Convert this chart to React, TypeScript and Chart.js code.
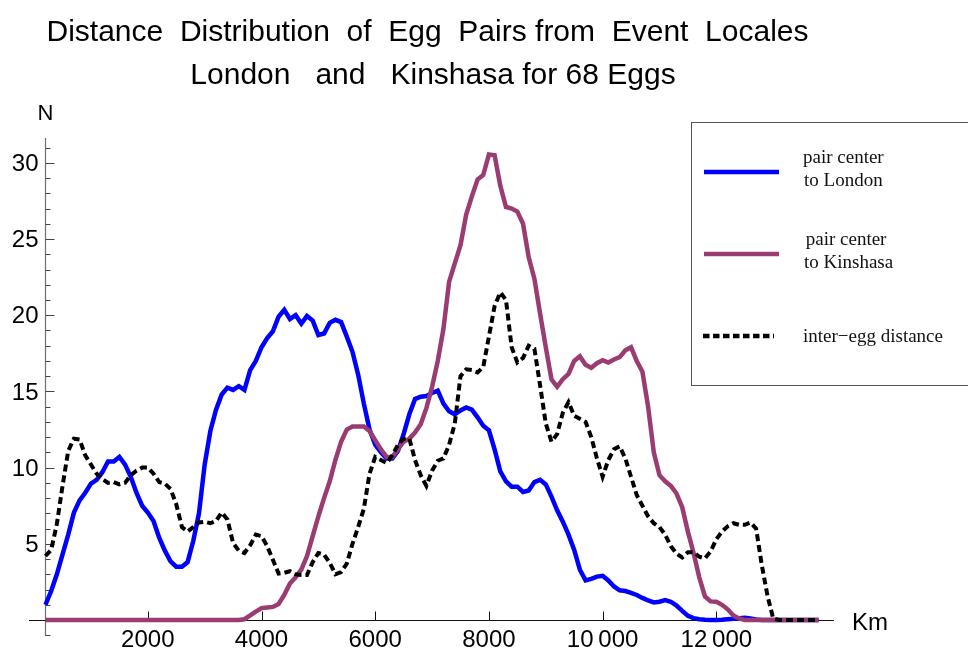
import React, { useEffect, useRef } from "react";
import { Chart, registerables } from "chart.js";

Chart.register(...registerables);

// ---- data ----
const distanceKm = [
  200, 300, 400, 500, 600, 700, 800, 900, 1000, 1100,
  1200, 1300, 1400, 1500, 1600, 1700, 1800, 1900, 2000, 2100,
  2200, 2300, 2400, 2500, 2600, 2700, 2800, 2900, 3000, 3100,
  3200, 3300, 3400, 3500, 3600, 3700, 3800, 3900, 4000, 4100,
  4200, 4300, 4400, 4500, 4600, 4700, 4800, 4900, 5000, 5100,
  5200, 5300, 5400, 5500, 5600, 5700, 5800, 5900, 6000, 6100,
  6200, 6300, 6400, 6500, 6600, 6700, 6800, 6900, 7000, 7100,
  7200, 7300, 7400, 7500, 7600, 7700, 7800, 7900, 8000, 8100,
  8200, 8300, 8400, 8500, 8600, 8700, 8800, 8900, 9000, 9100,
  9200, 9300, 9400, 9500, 9600, 9700, 9800, 9900, 10000, 10100,
  10200, 10300, 10400, 10500, 10600, 10700, 10800, 10900, 11000, 11100,
  11200, 11300, 11400, 11500, 11600, 11700, 11800, 11900, 12000, 12100,
  12200, 12300, 12400, 12500, 12600, 12700, 12800, 12900, 13000, 13100,
  13200, 13300, 13400, 13500, 13600, 13700, 13800,
];

const londonN = [
  1.0, 1.9, 3.0, 4.3, 5.6, 7.05, 7.85, 8.35, 8.95, 9.2,
  9.7, 10.4, 10.4, 10.7, 10.2, 9.4, 8.35, 7.5, 7.05, 6.5,
  5.4, 4.55, 3.85, 3.5, 3.5, 3.8, 5.2, 7.0, 10.2, 12.4,
  13.8, 14.8, 15.25, 15.1, 15.35, 15.1, 16.4, 17.0, 17.9, 18.5,
  18.95, 19.9, 20.35, 19.75, 20.0, 19.45, 19.95, 19.65, 18.7, 18.8,
  19.5, 19.7, 19.55, 18.6, 17.6, 16.1, 14.2, 12.5, 11.5, 11.0,
  10.6, 10.6, 11.1, 12.2, 13.5, 14.5, 14.65, 14.7, 14.9, 15.05,
  14.2, 13.7, 13.5, 13.75, 13.95, 13.8, 13.3, 12.75, 12.45, 11.2,
  9.75, 9.1, 8.75, 8.75, 8.4, 8.5, 9.05, 9.2, 8.9, 8.1,
  7.2, 6.45, 5.6, 4.6, 3.3, 2.6, 2.7, 2.85, 2.9, 2.6,
  2.2, 1.95, 1.9, 1.78, 1.64, 1.45, 1.28, 1.15, 1.2, 1.3,
  1.2, 0.95, 0.6, 0.28, 0.12, 0.05, 0.02, 0, 0, 0.02,
  0.05, 0.08, 0.12, 0.15, 0.1, 0.04, 0, 0, 0, 0,
  0, 0, 0, 0, 0, 0, 0,
];

const kinshasaN = [
  0, 0, 0, 0, 0, 0, 0, 0, 0, 0,
  0, 0, 0, 0, 0, 0, 0, 0, 0, 0,
  0, 0, 0, 0, 0, 0, 0, 0, 0, 0,
  0, 0, 0, 0, 0, 0.05, 0.3, 0.55, 0.78, 0.82,
  0.86, 1.05, 1.65, 2.4, 2.8, 3.3, 4.2, 5.5, 6.8, 8.0,
  9.1, 10.5, 11.7, 12.5, 12.7, 12.7, 12.7, 12.4, 11.8, 11.2,
  10.7, 10.7, 11.2, 11.7, 11.9, 12.3, 12.85, 13.9, 15.3, 17.0,
  19.1, 22.2, 23.4, 24.6, 26.6, 27.8, 28.9, 29.2, 30.55, 30.5,
  28.5, 27.1, 27.0, 26.8, 26.0, 23.8, 22.4, 20.1, 17.9, 15.8,
  15.3, 15.8, 16.15, 17.0, 17.3, 16.75, 16.55, 16.85, 17.05, 16.9,
  17.1, 17.25, 17.7, 17.9, 17.0, 16.3, 14.0, 11.0, 9.5, 9.1,
  8.8, 8.3, 7.4, 5.8, 4.4, 2.8, 1.55, 1.22, 1.2, 1.0,
  0.7, 0.3, 0.1, 0, 0, 0, 0, 0, 0, 0,
  0, 0, 0, 0, 0, 0, 0,
];

const interEggN = [
  4.2, 4.6, 6.3, 8.8, 11.1, 11.9, 11.85, 10.8, 10.2, 9.6,
  9.25, 9.0, 9.05, 8.9, 9.0, 9.5, 9.8, 10.0, 10.0, 9.6,
  9.05, 8.95, 8.6, 7.6, 6.1, 5.8, 6.1, 6.4, 6.45, 6.35,
  6.5, 7.05, 6.6, 5.05, 4.55, 4.4, 4.9, 5.6, 5.5, 4.85,
  3.95, 3.05, 3.1, 3.2, 3.0, 2.95, 2.95, 3.8, 4.4, 4.3,
  3.75, 3.0, 3.15, 3.7, 5.0, 6.1, 7.3, 9.6, 10.7, 10.5,
  10.3, 10.8, 11.5, 11.9, 11.9, 10.5, 9.5, 8.8, 9.8, 10.45,
  10.6, 11.5, 12.9, 16.0, 16.45, 16.4, 16.25, 16.6, 18.6, 20.6,
  21.5, 21.0, 17.9, 16.9, 17.2, 18.0, 17.8, 15.4, 12.9, 11.7,
  12.2, 13.6, 14.3, 13.4, 13.2, 13.0, 12.0, 10.6, 9.4, 10.5,
  11.2, 11.4, 10.6, 9.4, 8.2, 7.5, 6.8, 6.35, 6.1, 5.6,
  4.85, 4.35, 4.1, 4.45, 4.45, 4.15, 4.05, 4.5, 5.3, 5.8,
  6.15, 6.35, 6.25, 6.25, 6.4, 6.0, 3.6, 1.6, 0.1, 0,
  0, 0, 0, 0, 0, 0, 0,
];

const xTickValues = [2000, 4000, 6000, 8000, 10000, 12000];
const xTickLabels = ["2000", "4000", "6000", "8000", "10\u2009000", "12\u2009000"];
const yTickValues = [5, 10, 15, 20, 25, 30];
const yTickLabels = ["5", "10", "15", "20", "25", "30"];
const titleLines = [
  "Distance  Distribution  of  Egg  Pairs from  Event  Locales",
  "London   and   Kinshasa for 68 Eggs",
];
const seriesLabels = [
  ["pair center", "to London"],
  [" pair center", "to Kinshasa"],
  ["inter\u2212egg distance"],
];
const xAxisTitle = "Km";
const yAxisTitle = "N";

// ---- styling ----
const BLUE = "#0000ff";
const PURPLE = "#9a3c72";
const BLACK = "#000000";
const Y_AXIS_AT_KM = 200;
const SANS = "'Liberation Sans', Arial, sans-serif";
const SERIF = "'Liberation Serif', 'Times New Roman', serif";

const decorPlugin = {
  id: "decor",
  beforeDatasetsDraw(chart: any) {
    const { ctx, chartArea: a } = chart;
    const xs = chart.scales.x;
    const ys = chart.scales.y;
    ctx.save();

    // y axis
    const ax = Math.round(xs.getPixelForValue(Y_AXIS_AT_KM)) + 0.5;
    ctx.strokeStyle = "#707070";
    ctx.lineWidth = 1.2;
    ctx.beginPath();
    ctx.moveTo(ax, a.top);
    ctx.lineTo(ax, a.bottom);
    ctx.stroke();
    ctx.strokeStyle = "#444444";
    ctx.lineWidth = 1;
    for (let v = Math.ceil(ys.min); v <= Math.floor(ys.max); v++) {
      const py = Math.round(ys.getPixelForValue(v)) + 0.5;
      const len = yTickValues.includes(v) ? 9 : 5;
      ctx.beginPath();
      ctx.moveTo(ax, py);
      ctx.lineTo(ax + len, py);
      ctx.stroke();
    }

    // x axis
    const ay = Math.round(ys.getPixelForValue(0)) + 0.5;
    ctx.strokeStyle = "#111111";
    ctx.lineWidth = 1.2;
    ctx.beginPath();
    ctx.moveTo(a.left, ay);
    ctx.lineTo(a.right, ay);
    ctx.stroke();
    ctx.lineWidth = 1;
    xTickValues.forEach((v) => {
      const px = Math.round(xs.getPixelForValue(v)) + 0.5;
      ctx.beginPath();
      ctx.moveTo(px, ay);
      ctx.lineTo(px, ay - 9);
      ctx.stroke();
    });

    // tick labels
    ctx.fillStyle = "#000";
    ctx.font = `24px ${SANS}`;
    ctx.textAlign = "right";
    ctx.textBaseline = "middle";
    yTickValues.forEach((v, i) => {
      ctx.fillText(yTickLabels[i], 38.5, ys.getPixelForValue(v) + 1.5);
    });
    ctx.textAlign = "center";
    ctx.textBaseline = "alphabetic";
    xTickValues.forEach((v, i) => {
      ctx.fillText(xTickLabels[i], xs.getPixelForValue(v), 647);
    });

    // axis titles
    ctx.textAlign = "left";
    ctx.fillText(xAxisTitle, 852, 630);
    ctx.font = `22px ${SANS}`;
    ctx.textAlign = "center";
    ctx.fillText(yAxisTitle, ax, 120);
    ctx.restore();
  },
  afterDraw(chart: any) {
    const { ctx } = chart;
    ctx.save();
    // title
    ctx.fillStyle = "#000";
    ctx.font = `30px ${SANS}`;
    ctx.textAlign = "center";
    ctx.textBaseline = "alphabetic";
    ctx.fillText(titleLines[0], 427.5, 41);
    ctx.fillText(titleLines[1], 433, 84);

    // legend box
    ctx.strokeStyle = "#555";
    ctx.lineWidth = 1;
    ctx.strokeRect(691.5, 122.5, 300, 263);

    const sampleY = [172, 254, 336];
    const colors = [BLUE, PURPLE, BLACK];
    sampleY.forEach((y, i) => {
      ctx.strokeStyle = colors[i];
      ctx.lineWidth = 4.5;
      ctx.setLineDash(i === 2 ? [6.5, 3.5] : []);
      ctx.beginPath();
      ctx.moveTo(i === 2 ? 703 : 704, y);
      ctx.lineTo(i === 2 ? 774 : 779, y);
      ctx.stroke();
    });
    ctx.setLineDash([]);
    ctx.font = `19px ${SERIF}`;
    ctx.textAlign = "left";
    ctx.fillStyle = "#111";
    ctx.fillText(seriesLabels[0][0], 803, 163);
    ctx.fillText(seriesLabels[0][1], 804, 186);
    ctx.fillText(seriesLabels[1][0], 801, 245);
    ctx.fillText(seriesLabels[1][1], 804, 268);
    ctx.fillText(seriesLabels[2][0], 803, 342);
    ctx.restore();
  },
};

export default function App() {
  const canvasRef = useRef<HTMLCanvasElement | null>(null);

  useEffect(() => {
    if (!canvasRef.current) return;
    const toPoints = (arr: number[]) => distanceKm.map((x, i) => ({ x, y: arr[i] }));
    const chart = new Chart(canvasRef.current, {
      type: "line",
      data: {
        datasets: [
          {
            label: "inter-egg distance",
            data: toPoints(interEggN),
            borderColor: BLACK,
            borderWidth: 4,
            borderDash: [7, 4],
            pointRadius: 0,
            tension: 0,
            order: 0,
          },
          {
            label: "pair center to Kinshasa",
            data: toPoints(kinshasaN),
            borderColor: PURPLE,
            borderWidth: 4.5,
            pointRadius: 0,
            tension: 0,
            order: 1,
          },
          {
            label: "pair center to London",
            data: toPoints(londonN),
            borderColor: BLUE,
            borderWidth: 4.5,
            pointRadius: 0,
            tension: 0,
            order: 2,
          },
        ],
      },
      options: {
        responsive: false,
        animation: false,
        devicePixelRatio: 1,
        layout: { padding: { left: 29, right: 134, top: 138, bottom: 15 } },
        scales: {
          x: { type: "linear", min: -90, max: 14070, display: false },
          y: { type: "linear", min: -1.05, max: 31.63, display: false },
        },
        plugins: {
          legend: { display: false },
          tooltip: { enabled: false },
          title: { display: false },
        },
      },
      plugins: [decorPlugin],
    } as any);
    return () => chart.destroy();
  }, []);

  return (
    <div style={{ position: "fixed", left: 0, top: 0, width: 968, height: 651, background: "#fff" }}>
      <canvas ref={canvasRef} width={968} height={651} style={{ display: "block" }} />
    </div>
  );
}
